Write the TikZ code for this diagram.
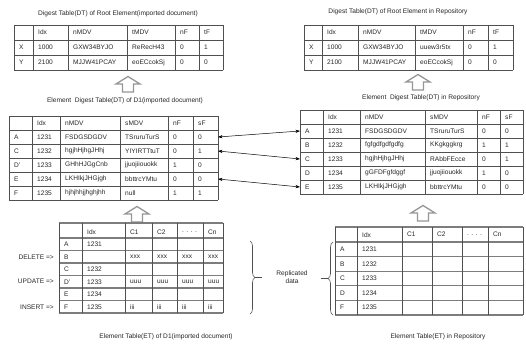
\documentclass[tikz,border=0pt]{standalone}
\usepackage{fontspec}
\setmainfont{Liberation Sans}
\usetikzlibrary{arrows.meta,decorations.pathreplacing,positioning}
\definecolor{gridgray}{RGB}{80,80,80}
\definecolor{rulegray}{RGB}{125,125,125}
\definecolor{blockgray}{RGB}{150,150,150}
\tikzset{
    % text in the table cells and the captions
    celltext/.style={anchor=west, inner sep=0pt, font=\fontsize{6.6}{7}\selectfont, text=black!85},
    tabletitle/.style={inner sep=0pt, font=\fontsize{6.6}{8}\selectfont, text=black!85},
    % table rules
    dtrule/.style={line width=0.6pt, gridgray},
    etrow/.style={line width=1.1pt, rulegray},
    etcol/.style={line width=0.6pt, gridgray},
    % connectors
    linkarrow/.style={{Stealth[length=4.5pt,width=3.2pt]}-{Stealth[length=4.5pt,width=3.2pt]}, line width=0.5pt},
    bracebar/.style={decorate, decoration={brace, amplitude=5pt}, line width=0.6pt, gridgray},
    bracetick/.style={line width=0.6pt, gridgray},
    blockarrow/.style={draw=blockgray, line width=1.3pt, fill=white},
    uparrow/.pic={\draw[blockarrow] (-5.5,8) -- (-5.5,0) -- (-12,0) -- (0,-7.5) -- (12,0) -- (5.5,0) -- (5.5,8) -- cycle;},
}

\begin{document}
\begin{tikzpicture}[x=1pt,y=-1pt]
\useasboundingbox (0,0) rectangle (526,353);

% ---- root element digest tables ----
\node[tabletitle] (tltitle) at (118,14) {Digest Table(DT) of Root Element(imported document)};
\foreach \y in {25,40,55,70} \draw[dtrule] (14,\y) -- (223,\y);
\foreach \x in {14,33,68,127,175,199,223} \draw[dtrule] (\x,25) -- (\x,70);
\foreach \row [count=\r from 0] in {{{},Idx,nMDV,tMDV,nF,tF},{X,1000,GXW34BYJO,ReRecH43,0,1},{Y,2100,MJJW41PCAY,eoECcokSj,0,0}}
  \foreach \t [count=\c from 0] in \row {
    \pgfmathsetmacro\cx{{14,33,68,127,175,199}[\c]+5}
    \node[celltext] (tl-\r-\c) at (\cx,32.5+15*\r) {\t};
  }

\node[tabletitle] (trtitle) at (398,12) {Digest Table(DT) of Root Element in Repository};
\foreach \y in {25,40,55,70} \draw[dtrule] (304,\y) -- (513,\y);
\foreach \x in {304,322,358,415,463,488,513} \draw[dtrule] (\x,25) -- (\x,70);
\foreach \row [count=\r from 0] in {{{},Idx,nMDV,tMDV,nF,tF},{X,1000,GXW34BYJO,uuew3r5tx,0,1},{Y,2100,MJJW41PCAY,eoECcokSj,0,0}}
  \foreach \t [count=\c from 0] in \row {
    \pgfmathsetmacro\cx{{304,322,358,415,463,488}[\c]+5}
    \node[celltext] (tr-\r-\c) at (\cx,32.5+15*\r) {\t};
  }

\pic at (128,84) {uparrow};
\pic at (418,82) {uparrow};

% ---- element digest tables ----
\node[tabletitle] (mltitle) at (125,101) {Element~ Digest Table(DT) of D1(imported document)};
\foreach \y in {116,130,...,200} \draw[dtrule] (9,\y) -- (218,\y);
\foreach \x in {9,32,60,120,168,193,218} \draw[dtrule] (\x,116) -- (\x,200);
\foreach \row [count=\r from 0] in {{{},Idx,nMDV,sMDV,nF,sF},
    {A,1231,FSDGSDGDV,TSruruTurS,0,0},
    {C,1232,hgjhHjhgJHhj,YIYIRTTtuT,0,1},
    {D',1233,GHhHJGgCnb,jjuojiiouokk,1,0},
    {E,1234,LKHIkjJHGjgh,bbttrcYMtu,0,0},
    {F,1235,hjhjhhjjhghjhh,null,1,1}}{
  \coordinate (ml-\r-e) at (218,123+14*\r);
  \foreach \t [count=\c from 0] in \row {
    \pgfmathsetmacro\cx{{9,32,60,120,168,193}[\c]+5}
    \node[celltext] (ml-\r-\c) at (\cx,123+14*\r) {\t};
  }
}

\node[tabletitle] (mrtitle) at (421,98) {Element~ Digest Table(DT) in Repository};
\foreach \y in {110,124,...,194} \draw[dtrule] (300,\y) -- (523,\y);
\foreach \x in {300,323,360,425,477,500,523} \draw[dtrule] (\x,110) -- (\x,194);
\foreach \row [count=\r from 0] in {{{},Idx,nMDV,sMDV,nF,sF},
    {A,1231,FSDGSDGDV,TSruruTurS,0,0},
    {B,1232,fgfgdfgdfgdfg,KKgkggkrg,1,1},
    {C,1233,hgjhHjhgJHhj,RAbbFEcce,0,1},
    {D,1234,gGFDFgfdggf,jjuojiiouokk,1,0},
    {E,1235,LKHIkjJHGjgh,bbttrcYMtu,0,0}}{
  \coordinate (mr-\r-w) at (300,117+14*\r);
  \foreach \t [count=\c from 0] in \row {
    \pgfmathsetmacro\cx{{300,323,360,425,477,500}[\c]+5}
    \node[celltext] (mr-\r-\c) at (\cx,117+14*\r) {\t};
  }
}

\draw[linkarrow] (ml-1-e) -- (mr-1-w);
\draw[linkarrow] (ml-2-e) -- (mr-3-w);
\draw[linkarrow] (ml-4-e) -- (mr-5-w);

\pic at (137,214) {uparrow};
\pic at (423,213) {uparrow};

% ---- element tables ----
\foreach \y in {223,238,250.5,263,275.5,288,300.5,313} \draw[etrow] (59,\y) -- (223,\y);
\foreach \x in {59,82,125,152,177,203,223} \draw[etcol] (\x,223) -- (\x,313);
\foreach \row [count=\r from 0] in {{{},Idx,C1,C2,{. . . .},Cn},
    {A,1231,{},{},{},{}},
    {B,{},xxx,xxx,xxx,xxx},
    {C,1232,{},{},{},{}},
    {D',1233,uuu,uuu,uuu,uuu},
    {E,1234,{},{},{},{}},
    {F,1235,iii,iii,iii,iii}}
  \foreach \t [count=\c from 0] in \row {
    \pgfmathsetmacro\cx{{59,82,125,152,177,203}[\c]+5}
    \node[celltext] (bl-\r-\c) at (\cx,231.75+12.5*\r) {\t};
  }
\node[celltext, anchor=east] (delop) at (54,256.75) {DELETE =>};
\node[celltext, anchor=east] (updop) at (54,281.75) {UPDATE =>};
\node[celltext, anchor=east] (insop) at (54,306.75) {INSERT =>};
\node[tabletitle] (bltitle) at (166,337) {Element Table(ET) of D1(imported document)};

\foreach \y in {227,242,256.6,271.2,285.8,300.4,315} \draw[etrow] (335,\y) -- (523,\y);
\foreach \x in {335,357,402,432,462,488,523} \draw[etcol] (\x,227) -- (\x,315);
\foreach \row [count=\r from 0] in {{{},Idx,C1,C2,{. . . .},Cn},
    {A,1231},{B,1232},{C,1233},{D,1234},{F,1235}}
  \foreach \t [count=\c from 0] in \row {
    \pgfmathsetmacro\cx{{335,357,402,432,462,488}[\c]+5}
    \node[celltext] (br-\r-\c) at (\cx,234.7+14.6*\r) {\t};
  }
\node[tabletitle] (brtitle) at (438,337) {Element Table(ET) in Repository};

% replicated rows
\coordinate (lbtop) at (250,241);
\coordinate (lbbot) at (250,314);
\coordinate (lbtip) at (255,277.5);
\coordinate (lbend) at (262,277.5);
\draw[bracebar] (lbtop) -- (lbbot);
\draw[bracetick] (lbtip) -- (lbend);
\coordinate (rbtop) at (333,242);
\coordinate (rbbot) at (333,315);
\coordinate (rbtip) at (328,278.5);
\coordinate (rbend) at (321,278.5);
\draw[bracebar] (rbbot) -- (rbtop);
\draw[bracetick] (rbtip) -- (rbend);
\node[tabletitle, align=center] (repl) at (292,277) {Replicated\\data};

\end{tikzpicture}
\end{document}
